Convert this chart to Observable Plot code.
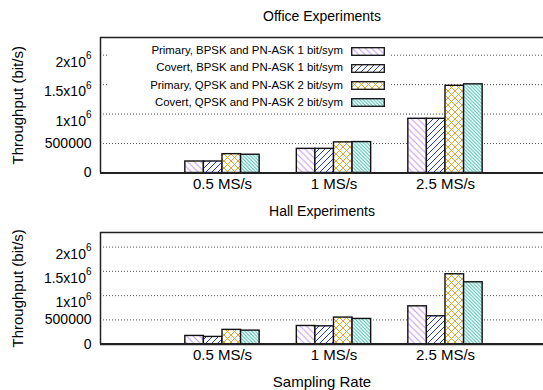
<!DOCTYPE html>
<html><head><meta charset="utf-8">
<script src="https://cdn.jsdelivr.net/npm/d3@7"></script>
<script src="https://cdn.jsdelivr.net/npm/@observablehq/plot@0.6"></script>
<style>
body{margin:0;background:#fff;}
#chart{position:relative;width:543px;height:390px;overflow:hidden;font-family:"Liberation Sans",Arial,Helvetica,sans-serif;color:#000;}
#chart svg.plot{position:absolute;left:0;}
#legend{position:absolute;left:107px;top:40px;width:284px;height:70px;background:#fff;}
.lrow{position:absolute;left:0;width:284px;height:17px;}
.ltext{position:absolute;right:48px;top:0;height:17px;line-height:17px;font-size:11.4px;white-space:nowrap;text-align:right;}
.lsw{position:absolute;left:244px;top:4.5px;}
</style></head><body>
<svg width="0" height="0" style="position:absolute">
  <defs>
    <pattern id="pat0" patternUnits="userSpaceOnUse" width="6.5" height="6.5">
      <rect width="6.5" height="6.5" fill="#fff"/>
      <path d="M0,0L6.5,6.5M-1,5.5L1,7.5M5.5,-1L7.5,1" stroke="#c298f0" stroke-width="1"/>
    </pattern>
    <pattern id="pat1" patternUnits="userSpaceOnUse" width="6" height="6">
      <rect width="6" height="6" fill="#fff"/>
      <path d="M0,6L6,0M-1,1L1,-1M5,7L7,5" stroke="#2233f0" stroke-width="1"/>
    </pattern>
    <pattern id="pat2" patternUnits="userSpaceOnUse" width="7" height="7">
      <rect width="7" height="7" fill="#fff"/>
      <path d="M0,0L7,7M-1,6L1,8M6,-1L8,1M0,7L7,0M-1,1L1,-1M6,8L8,6" stroke="#e4a42e" stroke-width="1"/>
    </pattern>
    <pattern id="pat3" patternUnits="userSpaceOnUse" width="3.5" height="3.5">
      <rect width="3.5" height="3.5" fill="#fff"/>
      <path d="M0,0L3.5,3.5M-1,2.5L1,4.5M2.5,-1L4.5,1" stroke="#3cbcb0" stroke-width="1"/>
    </pattern>
  </defs>
</svg>
<div id="chart"></div>
<script>
// ---- data ----
const categories = ["0.5 MS/s", "1 MS/s", "2.5 MS/s"];
const seriesNames = [
  "Primary, BPSK and PN-ASK 1 bit/sym",
  "Covert, BPSK and PN-ASK 1 bit/sym",
  "Primary, QPSK and PN-ASK 2 bit/sym",
  "Covert, QPSK and PN-ASK 2 bit/sym"
];
const officePrimaryBPSK = [195000, 410000, 920000];
const officeCovertBPSK  = [195000, 410000, 920000];
const officePrimaryQPSK = [320000, 520000, 1480000];
const officeCovertQPSK  = [310000, 525000, 1505000];
const hallPrimaryBPSK = [170000, 375000, 780000];
const hallCovertBPSK  = [150000, 368000, 575000];
const hallPrimaryQPSK = [295000, 548000, 1440000];
const hallCovertQPSK  = [280000, 520000, 1275000];
const yTicks = [0, 500000, 1000000, 1500000, 2000000];
const yMax = 2300000;
const xDomain = [-1.094, 2.879];
const barWidth = 1 / 6;
const yLabel = "Throughput (bit/s)";
const xLabel = "Sampling Rate";
const titles = ["Office Experiments", "Hall Experiments"];

const fmt = v => v >= 1000000 ? `${v / 1000000}x10^6` : `${v}`;

function panel(values, title, opts) {
  const rows = [];
  values.forEach((vals, si) => vals.forEach((v, gi) => rows.push({
    si, gi, x1: gi + (si - 2) * barWidth, x2: gi + (si - 1) * barWidth, value: v
  })));
  const marks = [
    Plot.gridY(yTicks.filter(v => v > 0), {stroke: "#555", strokeOpacity: 1, strokeWidth: 1, strokeDasharray: "1,2"}),
    ...values.map((_, si) => Plot.rectY(rows.filter(d => d.si === si), {
      x1: "x1", x2: "x2", y: "value", fill: `url(#pat${si})`, stroke: "#111", strokeWidth: 1.4
    })),
    Plot.ruleY([0], {stroke: "#222", strokeWidth: 2.2}),
    Plot.ruleY([yMax], {stroke: "#222", strokeWidth: 1.5}),
    Plot.ruleX([xDomain[0]], {stroke: "#222", strokeWidth: 1.5}),
    Plot.axisY(yTicks, {tickSize: 0, tickPadding: 9, tickFormat: fmt, fontSize: 14, label: null}),
    Plot.axisX(categories.map((c, i) => i), {tickSize: 0, tickPadding: 5, tickFormat: i => categories[i], fontSize: 15, label: null}),
    Plot.text([yLabel], {text: d => d, frameAnchor: "left", textAnchor: "middle", lineAnchor: "middle", rotate: -90, dx: -82, fontSize: 15}),
    Plot.text([title], {text: d => d, frameAnchor: "top", lineAnchor: "middle", dy: -21, fontSize: 14})
  ];
  if (opts.xLabel) marks.push(Plot.text([opts.xLabel], {text: d => d, frameAnchor: "bottom", lineAnchor: "middle", dy: 38, fontSize: 15}));
  const svg = Plot.plot({
    width: 543, height: 195,
    marginLeft: 100, marginRight: 0, marginTop: 37, marginBottom: opts.marginBottom,
    x: {domain: xDomain, label: null},
    y: {domain: [0, yMax], label: null},
    style: {fontFamily: '"Liberation Sans", Arial, Helvetica, sans-serif', color: "#000", background: "transparent", overflow: "visible"},
    marks
  });
  svg.classList.add("plot");
  svg.style.top = opts.top + "px";
  // superscripts
  svg.querySelectorAll("text").forEach(t => {
    const m = /^(.*)\^(\d+)$/.exec(t.textContent);
    if (m) {
      t.textContent = m[1];
      t.setAttribute("dy", "0.5em");
      const ts = document.createElementNS("http://www.w3.org/2000/svg", "tspan");
      ts.setAttribute("dy", "-7.5");
      ts.setAttribute("font-size", "10");
      ts.textContent = m[2];
      t.appendChild(ts);
    }
  });
  return svg;
}

const chart = document.getElementById("chart");
chart.appendChild(panel([officePrimaryBPSK, officeCovertBPSK, officePrimaryQPSK, officeCovertQPSK], titles[0], {top: 0, marginBottom: 22.5}));
chart.appendChild(panel([hallPrimaryBPSK, hallCovertBPSK, hallPrimaryQPSK, hallCovertQPSK], titles[1], {top: 195, marginBottom: 46.3, xLabel}));

// legend (inside top panel)
const legend = document.createElement("div");
legend.id = "legend";
seriesNames.forEach((name, i) => {
  const row = document.createElement("div");
  row.className = "lrow";
  row.style.top = (2.2 + i * 17.2) + "px";
  const tx = document.createElement("div");
  tx.className = "ltext";
  tx.textContent = name;
  row.appendChild(tx);
  const sw = document.createElementNS("http://www.w3.org/2000/svg", "svg");
  sw.setAttribute("class", "lsw");
  sw.setAttribute("width", "34");
  sw.setAttribute("height", "9");
  sw.innerHTML = `<rect x="0.7" y="0.7" width="32.6" height="7.6" fill="url(#pat${i})" stroke="#111" stroke-width="1.3"/>`;
  row.appendChild(sw);
  legend.appendChild(row);
});
chart.appendChild(legend);
</script>
</body></html>
